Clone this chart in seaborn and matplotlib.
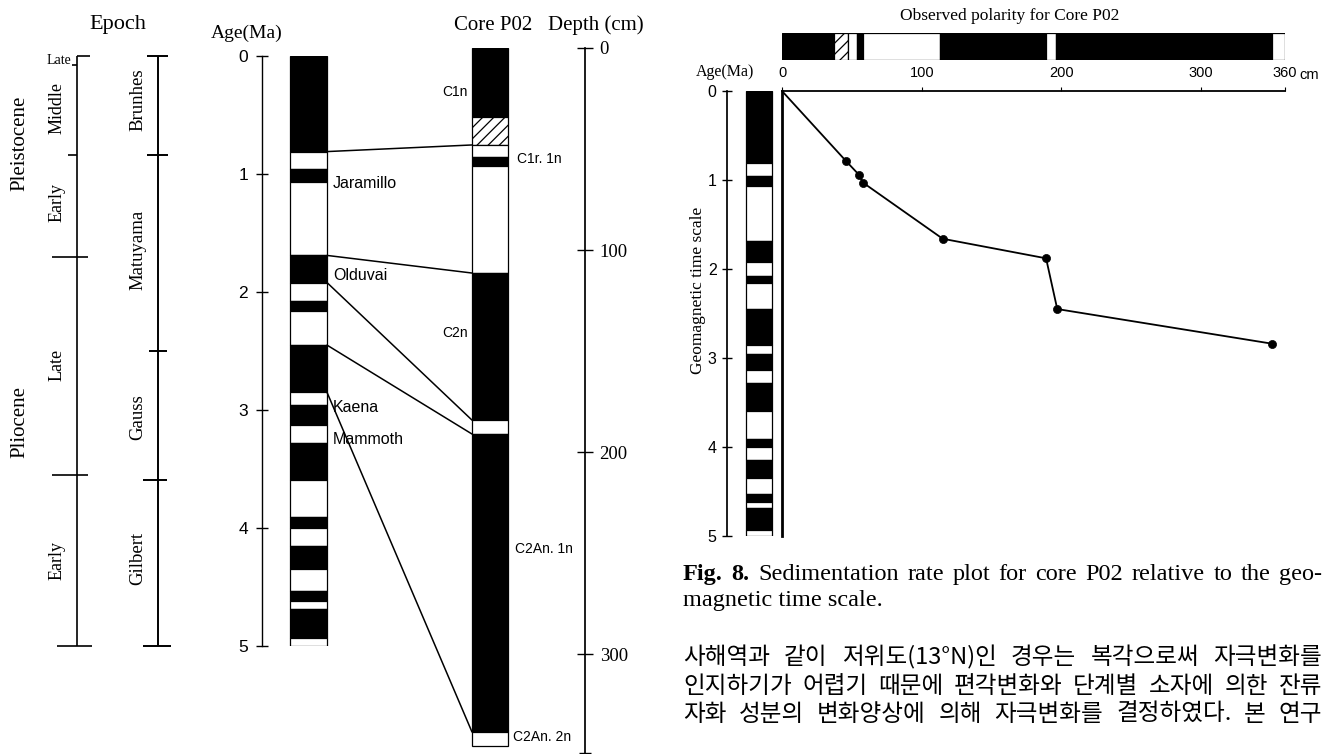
import matplotlib
matplotlib.use("Agg")
import matplotlib.pyplot as plt
from matplotlib.patches import ConnectionPatch
import seaborn as sns

# ---------------- data ----------------
# geomagnetic polarity time scale (Ma); first interval normal (black)
gpts_bounds = [0.0, 0.81, 0.96, 1.07, 1.69, 1.92, 2.08, 2.16, 2.45, 2.85, 2.96,
               3.13, 3.28, 3.59, 3.91, 4.00, 4.15, 4.35, 4.53, 4.62, 4.69, 4.93, 5.0]
gpts_types = ['N', 'R', 'N', 'R', 'N', 'R', 'N', 'R', 'N', 'R', 'N',
              'R', 'N', 'R', 'N', 'R', 'N', 'R', 'N', 'R', 'N', 'R']
age_ticks = [0, 1, 2, 3, 4, 5]

epoch_bounds = [0.0, 0.08, 0.84, 1.70, 3.55, 5.0]
chron_bounds = [0.0, 0.84, 2.50, 3.59, 5.0]
chron_names = ['Brunhes', 'Matuyama', 'Gauss', 'Gilbert']
subchron_names = ['Jaramillo', 'Olduvai', 'Kaena', 'Mammoth']
subchron_label_age = [1.08, 1.86, 2.98, 3.25]

# observed polarity of core P02 (depth, cm); H = hatched (uncertain)
core_types = ['N', 'H', 'R', 'N', 'R', 'N', 'R', 'N', 'R']
core_bounds_left = [0, 34, 48, 54, 58.4, 111.4, 184.2, 191.1, 338.6, 345.5]
core_bounds = [0, 37, 47, 54, 58, 113, 189, 196, 351, 360]
core_zone_names = ['C1n', 'C1r. 1n', 'C2n', 'C2An. 1n', 'C2An. 2n']
core_zone_depth = [22, 55, 141, 248, 341]
depth_ticks = [0, 100, 200, 300]
depth_axis_end = 349

# tie lines age (Ma) -> depth (cm) in the left panel
tie_age = [0.81, 1.69, 1.92, 2.45, 2.85]
tie_depth_left = [48, 111.4, 184.2, 191.1, 338.6]

# sedimentation rate plot
sed_depth = [0, 46, 55, 58, 115, 189, 197, 351]
sed_age = [0, 0.79, 0.94, 1.03, 1.66, 1.88, 2.45, 2.84]
top_ticks = [0, 100, 200, 300, 360]
top_ticklabels = ['0', '100', '200', '300', '360']

caption1 = "Fig. 8. Sedimentation rate plot for core P02 relative to the geo-"
caption2 = "magnetic time scale."
korean_lines = [
    "사해역과 같이 저위도(13°N)인 경우는 복각으로써 자극변화를",
    "인지하기가 어렵기 때문에 편각변화와 단계별 소자에 의한 잔류",
    "자화 성분의 변화양상에 의해 자극변화를 결정하였다. 본 연구",
]

# ---------------- style ----------------
sns.set_theme(style="white")
SERIF = ["Liberation Serif", "DejaVu Serif"]
SANS = ["Liberation Sans", "DejaVu Sans"]
KR = ["Noto Sans CJK KR", "DejaVu Sans"]
plt.rcParams.update({
    "font.family": SERIF,
    "hatch.linewidth": 0.9,
    "axes.edgecolor": "black",
    "xtick.color": "black",
    "ytick.color": "black",
    "text.color": "black",
})

W, H, DPI = 1327, 754, 100
fig = plt.figure(figsize=(W / DPI, H / DPI), dpi=DPI)
fig.patch.set_facecolor("white")


def add_ax(x0, x1, yt, yb):
    ax = fig.add_axes([x0 / W, 1 - yb / H, (x1 - x0) / W, (yb - yt) / H])
    ax.patch.set_alpha(0)
    return ax


def ftext(x, y, s, **kw):
    kw.setdefault("ha", "center")
    kw.setdefault("va", "center")
    return fig.text(x / W, 1 - y / H, s, **kw)


def draw_column(ax, bounds, types, xc, w, horizontal=False):
    for b0, b1, t in zip(bounds[:-1], bounds[1:], types):
        fc = "black" if t == "N" else "white"
        hatch = "///" if t == "H" else None
        if horizontal:
            ax.barh(0.5, b1 - b0, left=b0, height=1.0, color=fc,
                    edgecolor="black", linewidth=0.9, hatch=hatch)
        else:
            ax.bar(xc, b1 - b0, bottom=b0, width=w, color=fc,
                   edgecolor="black", linewidth=0.9, hatch=hatch)


def set_fam(labels, fam):
    for lb in labels:
        lb.set_fontfamily(fam)


# ---------------- left panel: time scale ----------------
ax_age = add_ax(0, 440, 56, 646)
ax_age.set_xlim(0, 440)
ax_age.set_ylim(5, 0)
for s in ["top", "right", "bottom"]:
    ax_age.spines[s].set_visible(False)
ax_age.spines["left"].set_position(("data", 262))
ax_age.spines["left"].set_bounds(0, 5)
ax_age.spines["left"].set_linewidth(1.0)
ax_age.set_xticks([])
ax_age.set_yticks(age_ticks)
ax_age.set_yticklabels([str(t) for t in age_ticks])
ax_age.tick_params(axis="y", left=True, direction="inout", length=8, width=1,
                   labelsize=12.5, pad=6)
set_fam(ax_age.get_yticklabels(), SANS)

draw_column(ax_age, gpts_bounds, gpts_types, 308.5, 37)

# epoch column
ax_age.vlines(77, epoch_bounds[0], epoch_bounds[-1], color="black", lw=1.2, clip_on=False)
epoch_ext = [(77, 90), (72, 77), (68, 77), (52, 88), (52, 88), (57, 92)]
for b, (x0, x1) in zip(epoch_bounds, epoch_ext):
    ax_age.hlines(b, x0, x1, color="black", lw=1.2, clip_on=False)
# chron column
ax_age.vlines(158, chron_bounds[0], chron_bounds[-1], color="black", lw=1.4, clip_on=False)
chron_ext = [(147, 168), (147, 168), (149, 167), (143, 167), (143, 171)]
for b, (x0, x1) in zip(chron_bounds, chron_ext):
    ax_age.hlines(b, x0, x1, color="black", lw=1.4, clip_on=False)

for name, a in zip(subchron_names, subchron_label_age):
    ax_age.text(333, a, name, ha="left", va="center", fontsize=11.5, family=SANS)

ftext(118, 25, "Epoch", fontsize=16)
ftext(247, 33, "Age(Ma)", fontsize=14)
ftext(20, 143, "Pleistocene", rotation=90, fontsize=15)
ftext(20, 422, "Pliocene", rotation=90, fontsize=15)
ftext(71, 61, "Late", ha="right", fontsize=10)
ftext(57, 108, "Middle", rotation=90, fontsize=13)
ftext(57, 202, "Early", rotation=90, fontsize=13)
ftext(57, 365, "Late", rotation=90, fontsize=13)
ftext(57, 560, "Early", rotation=90, fontsize=13)
for name, yc in zip(chron_names, [100, 250, 417, 558]):
    ftext(138, yc, name, rotation=90, fontsize=13.5)

# ---------------- left panel: core P02 ----------------
ax_core = add_ax(440, 660, 48, 753)
ax_core.set_xlim(440, 660)
ax_core.set_ylim(depth_axis_end, 0)
for s in ["top", "left", "bottom"]:
    ax_core.spines[s].set_visible(False)
ax_core.spines["right"].set_position(("data", 585))
ax_core.spines["right"].set_bounds(0, depth_axis_end)
ax_core.yaxis.tick_right()
ax_core.set_xticks([])
ax_core.set_yticks(depth_ticks)
ax_core.set_yticklabels([str(t) for t in depth_ticks])
ax_core.set_yticks([depth_axis_end], minor=True)
ax_core.tick_params(axis="y", which="both", right=True, direction="inout",
                    length=11, width=1, labelsize=13.5, pad=5)
ax_core.tick_params(axis="y", which="minor", length=8)
set_fam(ax_core.get_yticklabels(), SERIF)

draw_column(ax_core, core_bounds_left, core_types, 490, 36)

zone_layout = [(468, "right"), (517, "left"), (468, "right"), (515, "left"), (513, "left")]
for name, d, (xl, ha) in zip(core_zone_names, core_zone_depth, zone_layout):
    ax_core.text(xl, d, name, ha=ha, va="center", fontsize=10, family=SANS)

ftext(493, 25, "Core P02", fontsize=15)
ftext(548, 25, "Depth (cm)", ha="left", fontsize=15)

for a, d in zip(tie_age, tie_depth_left):
    con = ConnectionPatch(xyA=(327, a), coordsA=ax_age.transData,
                          xyB=(472, d), coordsB=ax_core.transData,
                          color="black", lw=1.1)
    fig.add_artist(con)

# ---------------- right panel ----------------
ax_bar = add_ax(782, 1285, 33, 60)
ax_bar.set_xlim(0, 360)
ax_bar.set_ylim(0, 1)
ax_bar.axis("off")
draw_column(ax_bar, core_bounds, core_types, None, None, horizontal=True)
ftext(1010, 16, "Observed polarity for Core P02", fontsize=12.5)

ax_rcol = add_ax(690, 782, 91, 536)
ax_rcol.set_xlim(690, 782)
ax_rcol.set_ylim(5, 0)
for s in ["top", "right", "bottom"]:
    ax_rcol.spines[s].set_visible(False)
ax_rcol.spines["left"].set_position(("data", 727))
ax_rcol.spines["left"].set_bounds(0, 5)
ax_rcol.set_xticks([])
ax_rcol.set_yticks(age_ticks)
ax_rcol.set_yticklabels([str(t) for t in age_ticks])
ax_rcol.tick_params(axis="y", left=True, direction="inout", length=7, width=1,
                    labelsize=11.5, pad=4)
set_fam(ax_rcol.get_yticklabels(), SANS)
draw_column(ax_rcol, gpts_bounds, gpts_types, 759, 26)
ftext(725, 72, "Age(Ma)", fontsize=11.5)
ftext(698, 290, "Geomagnetic time scale", rotation=90, fontsize=12.5)

ax_main = add_ax(782, 1285, 91, 536)
sns.lineplot(x=sed_depth, y=sed_age, ax=ax_main, color="black", linewidth=1.3,
             sort=False, estimator=None, legend=False)
sns.scatterplot(x=sed_depth[1:], y=sed_age[1:], ax=ax_main, color="black", s=34,
                edgecolor="black", linewidth=0.5, zorder=5, clip_on=False, legend=False)
ax_main.set_xlim(0, 360)
ax_main.set_ylim(5, 0)
ax_main.set_xlabel("")
ax_main.set_ylabel("")
ax_main.spines["right"].set_visible(False)
ax_main.spines["bottom"].set_visible(False)
ax_main.spines["top"].set_linewidth(1.3)
ax_main.spines["left"].set_linewidth(2.0)
ax_main.set_yticks([])
ax_main.xaxis.tick_top()
ax_main.set_xticks(top_ticks)
ax_main.set_xticklabels(top_ticklabels)
ax_main.tick_params(axis="x", top=True, bottom=False, labeltop=True, labelbottom=False,
                    direction="out", length=3, width=0.8, labelsize=10.5, pad=5)
set_fam(ax_main.get_xticklabels(), SANS)
ftext(1299, 75, "cm", ha="left", fontsize=10.5, family=SANS)

# ---------------- caption & body text ----------------
renderer = fig.canvas.get_renderer()


def justify(words, x0, x1, y_base, size, fam, weights=None):
    texts = []
    for i, w in enumerate(words):
        wt = weights[i] if weights else "normal"
        texts.append(fig.text(0, 1 - y_base / H, w, fontsize=size, family=fam,
                              fontweight=wt, ha="left", va="baseline"))
    widths = [t.get_window_extent(renderer).width for t in texts]
    gap = (x1 - x0 - sum(widths)) / max(len(words) - 1, 1)
    gap = max(gap, 3)
    x = x0
    for t, wd in zip(texts, widths):
        t.set_x(x / W)
        x += wd + gap


cap_words = caption1.split(" ")
cap_weights = ["bold" if i < 2 else "normal" for i in range(len(cap_words))]
justify(cap_words, 683, 1322, 580, 17.5, SERIF, cap_weights)
fig.text(683 / W, 1 - 606 / H, caption2, fontsize=17.5, family=SERIF, ha="left", va="baseline")

for line, yb in zip(korean_lines, [664, 693, 721]):
    justify(line.split(" "), 683, 1322, yb, 17, KR)

fig.savefig("out.png", dpi=DPI, facecolor="white")
